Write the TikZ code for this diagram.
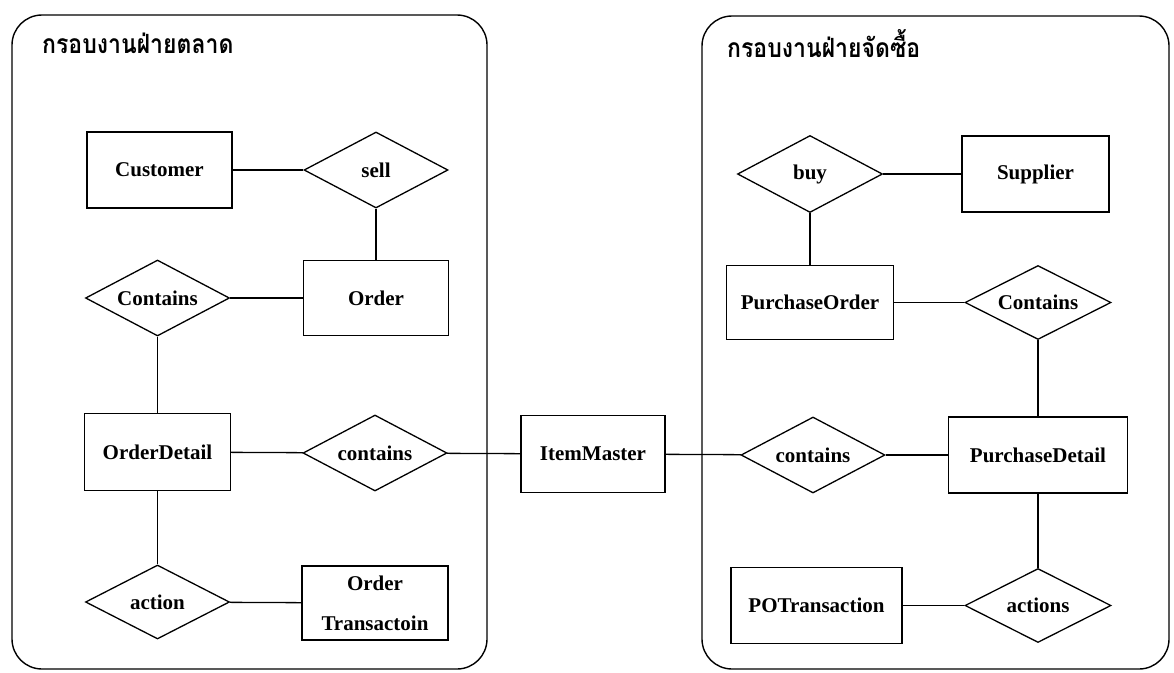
\documentclass[tikz,border=0pt]{standalone}
\usepackage{fontspec}
\setmainfont{Liberation Serif}
\newfontfamily\thaifont[Script=Thai]{Loma}
\usetikzlibrary{shapes.geometric}

\begin{document}
\begin{tikzpicture}[x=1pt,y=-1pt,
  every node/.style={font=\bfseries\fontsize{21}{25}\selectfont},
  entity/.style={draw, line width=1.3pt, rectangle, inner sep=0pt, minimum height=76pt, align=center},
  relation/.style={draw, line width=1.3pt, diamond, aspect=1.9, inner sep=0pt,
                   minimum width=144pt, minimum height=76pt},
  link/.style={line width=1.3pt},
  frame/.style={draw, line width=1.4pt, rounded corners=30pt},
  title/.style={font=\thaifont\bfseries\fontsize{23}{27}\selectfont, anchor=base west, inner sep=0pt}]

\useasboundingbox (0,0) rectangle (1174,672);

% two department frames
\draw[frame] (12,15) rectangle (487,669);
\draw[frame] (702,16) rectangle (1169,669);
\node[title] (titleL) at (42,53) {\scalebox{1}[1.15]{กรอบงานฝ่ายตลาด}};
\node[title] (titleR) at (727,57) {\scalebox{1}[1.15]{กรอบงานฝ่ายจัดซื้อ}};

% marketing side
\node[entity, minimum width=145pt] (customer) at (159.5,170) {Customer};
\node[relation] (sell) at (376,170) {sell};
\node[entity, minimum width=145pt, minimum height=75pt] (order) at (376,298) {Order};
\node[relation] (containsA) at (157.5,298) {Contains};
\node[entity, minimum width=146pt, minimum height=77pt] (orderdetail) at (157.5,452) {OrderDetail};
\node[relation] (containsB) at (375,453) {contains};
\node[relation, minimum height=74pt] (action) at (157.5,602) {action};
\node[entity, minimum width=146pt, minimum height=74pt] (ordertrans) at (375,603)
  {Order\\[15pt]Transactoin};

% shared item master
\node[entity, minimum width=144pt, minimum height=77pt] (item) at (593,454) {ItemMaster};

% purchasing side
\node[relation, minimum width=145pt, minimum height=77pt] (buy) at (810,174) {buy};
\node[entity, minimum width=147pt] (supplier) at (1035.5,174) {Supplier};
\node[entity, minimum width=167pt, minimum height=74pt] (porder) at (810,302.5) {PurchaseOrder};
\node[relation, minimum width=146pt, minimum height=74pt] (containsC) at (1038,302.5) {Contains};
\node[relation] (containsD) at (813,455) {contains};
\node[entity, minimum width=179pt] (pdetail) at (1038,455) {PurchaseDetail};
\node[relation, minimum width=146pt, minimum height=74pt] (actions) at (1038,605.5) {actions};
\node[entity, minimum width=171pt] (potrans) at (816.5,605.5) {POTransaction};

% connectors
\draw[link] (customer) -- (sell);
\draw[link] (sell) -- (order);
\draw[link] (order) -- (containsA);
\draw[link] (containsA) -- (orderdetail);
\draw[link] (orderdetail) -- (containsB);
\draw[link] (containsB) -- (item);
\draw[link] (orderdetail) -- (action);
\draw[link] (action) -- (ordertrans);
\draw[link] (item) -- (containsD);
\draw[link] (containsD) -- (pdetail);
\draw[link] (buy) -- (supplier);
\draw[link] (buy) -- (porder);
\draw[link] (porder) -- (containsC);
\draw[link] (containsC) -- (pdetail);
\draw[link] (pdetail) -- (actions);
\draw[link] (actions) -- (potrans);
\end{tikzpicture}
\end{document}
